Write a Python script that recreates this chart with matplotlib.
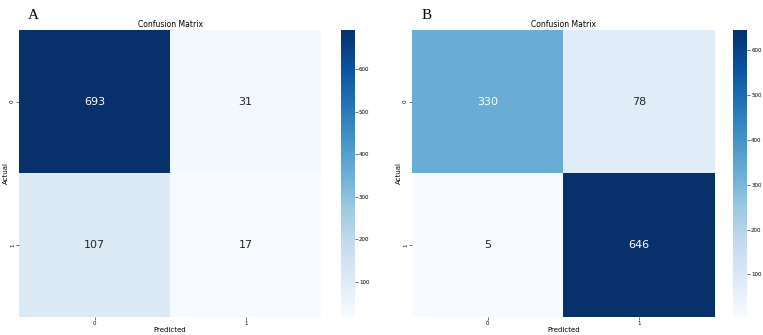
import numpy as np
import matplotlib
matplotlib.use("Agg")
from matplotlib import pyplot as plt
import seaborn as sns

# confusion matrices for the two models
cm_a = np.array([[693, 31],
                 [107, 17]])
cm_b = np.array([[330, 78],
                 [5, 646]])
class_labels = ["0", "1"]
panel_labels = ["A", "B"]

fig = plt.figure(figsize=(7.63, 3.35), dpi=100)

# axes positions in figure fractions (heatmap, colorbar)
layout = [
    ([0.025, 0.054, 0.396, 0.857], [0.447, 0.054, 0.018, 0.857]),
    ([0.540, 0.054, 0.397, 0.857], [0.961, 0.054, 0.018, 0.857]),
]

for cm, letter, (hm_pos, cb_pos) in zip([cm_a, cm_b], panel_labels, layout):
    ax = fig.add_axes(hm_pos)
    cax = fig.add_axes(cb_pos)
    sns.heatmap(cm, annot=True, fmt="d", cmap="Blues", ax=ax, cbar_ax=cax,
                xticklabels=class_labels, yticklabels=class_labels,
                annot_kws={"fontsize": 8})
    ax.set_title("Confusion Matrix", fontsize=5.5, pad=2)
    ax.set_xlabel("Predicted", fontsize=5, labelpad=1)
    ax.set_ylabel("Actual", fontsize=5, labelpad=1)
    ax.tick_params(labelsize=4, length=2, width=0.4, pad=1)
    cax.tick_params(labelsize=4, length=2, width=0.4, pad=1)
    for sp in cax.spines.values():
        sp.set_visible(False)
    fig.text(hm_pos[0] + 0.012, 0.955, letter, fontsize=11,
             family="Liberation Serif", ha="left", va="center")

fig.savefig("out.png", dpi=100)
